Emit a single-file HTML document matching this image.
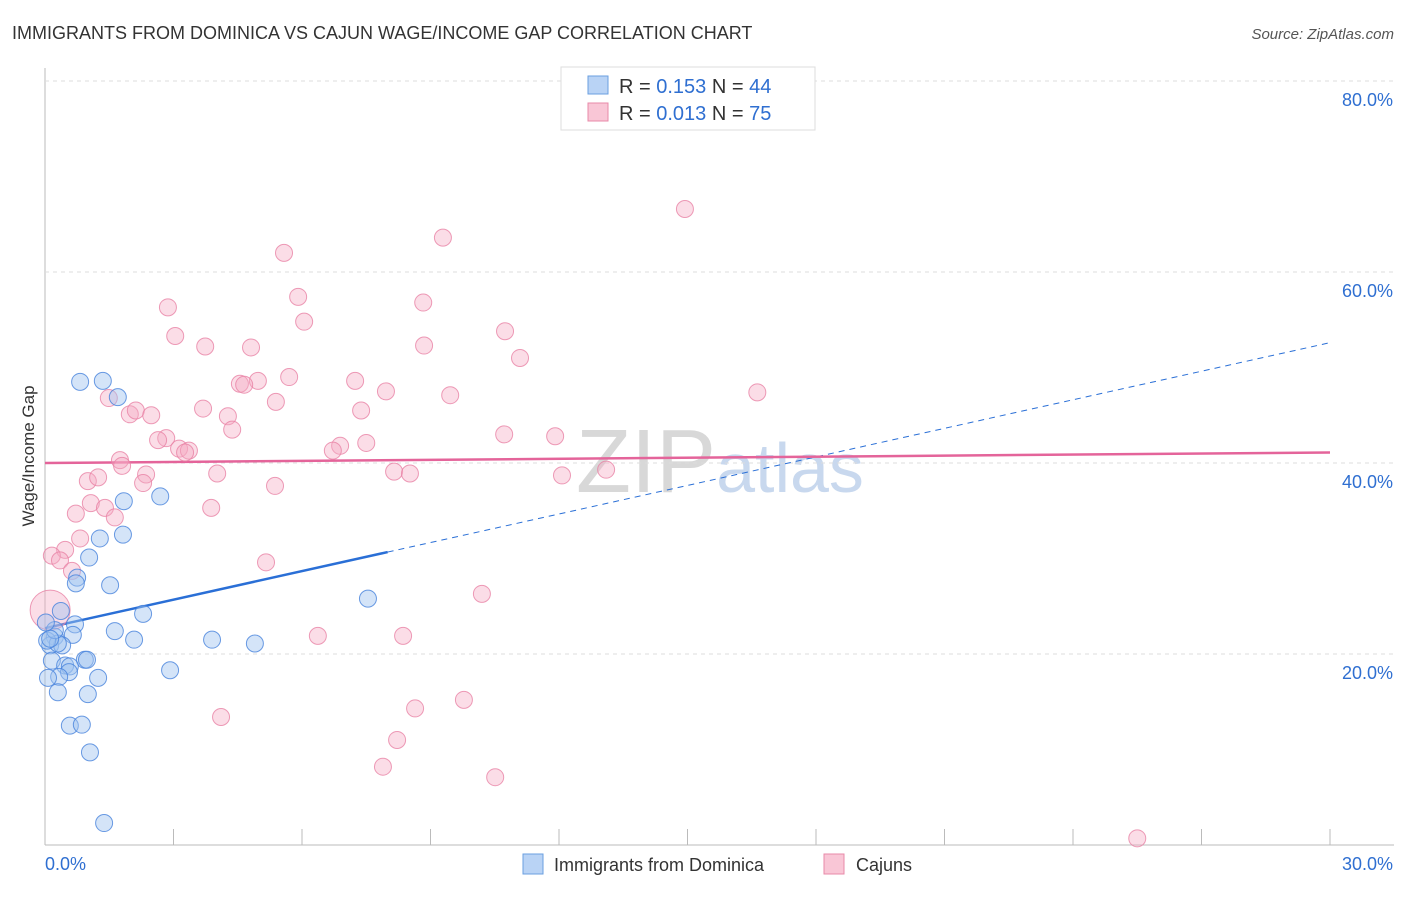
<!DOCTYPE html>
<html><head><meta charset="utf-8"><style>
body{margin:0;background:#fff;font-family:"Liberation Sans",sans-serif}
svg text{font-family:"Liberation Sans",sans-serif}
</style></head><body>
<svg id="chart" width="1406" height="892" xmlns="http://www.w3.org/2000/svg">
<text x="12" y="39" font-size="18" fill="#333">IMMIGRANTS FROM DOMINICA VS CAJUN WAGE/INCOME GAP CORRELATION CHART</text>
<text x="1394" y="39" font-size="15" fill="#555" font-style="italic" text-anchor="end">Source: ZipAtlas.com</text>
<text x="34" y="456" font-size="17" fill="#333" text-anchor="middle" transform="rotate(-90 34 456)">Wage/Income Gap</text>
<text x="720" y="492" font-size="90" fill="#d8d8d8" text-anchor="middle" font-family="Liberation Serif">ZIP<tspan fill="#c8d8ee" font-family="Liberation Sans" font-size="70">atlas</tspan></text>
<g id="grid"></g><g id="trend"></g><g id="pts"></g>
<g>
<rect x="561" y="67" width="254" height="63" fill="#fff" stroke="#ddd"/>
<rect x="588" y="76" width="20" height="18" fill="#b9d3f5" stroke="#6a9fe0"/>
<rect x="588" y="103" width="20" height="18" fill="#f9c6d6" stroke="#e88aa8"/>
<text x="619" y="93" font-size="20" fill="#333">R = <tspan fill="#2f6fd1">0.153</tspan>   N = <tspan fill="#2f6fd1">44</tspan></text>
<text x="619" y="120" font-size="20" fill="#333">R = <tspan fill="#2f6fd1">0.013</tspan>   N = <tspan fill="#2f6fd1">75</tspan></text>
</g>
<g>
<rect x="523" y="854" width="20" height="20" fill="#b9d3f5" stroke="#6a9fe0"/>
<text x="554" y="871" font-size="18" fill="#333">Immigrants from Dominica</text>
<rect x="824" y="854" width="20" height="20" fill="#f9c6d6" stroke="#e88aa8"/>
<text x="856" y="871" font-size="18" fill="#333">Cajuns</text>
</g>
</svg>
<script>
const yTicks=[20,40,60,80];
const xTickCount=10;
const xLabels=["0.0%","30.0%"];
const blueX=[0.82,1.35,1.70,1.84,2.69,1.82,1.28,1.03,0.75,0.72,1.52,0.37,0.70,0.65,2.29,1.63,2.08,3.90,4.90,7.54,0.23,0.12,0.40,0.30,0.05,0.16,0.47,0.93,0.98,0.58,0.56,0.33,1.24,2.92,0.07,0.30,1.00,0.58,0.86,1.05,1.38,0.23,0.12,0.02];
const blueY=[48.5,48.6,46.9,36.0,36.5,32.5,32.1,30.1,28.0,27.4,27.2,24.5,23.1,22.0,24.2,22.4,21.5,21.5,21.1,25.8,21.8,20.9,20.9,21.1,21.4,19.3,18.8,19.4,19.4,18.7,18.1,17.6,17.5,18.3,17.5,16.0,15.8,12.5,12.6,9.7,2.3,22.5,21.6,23.3];
const pinkX=[17.63,14.94,9.29,5.58,5.91,8.83,2.87,6.05,10.74,3.04,3.74,8.85,4.81,11.09,5.70,7.24,4.55,4.97,4.65,7.96,9.46,16.63,1.49,5.39,3.69,1.98,2.12,2.48,7.38,4.27,4.37,10.72,11.91,2.83,2.64,6.89,7.50,3.13,3.36,6.72,3.27,1.75,1.80,8.15,8.52,4.02,2.36,12.07,13.10,1.00,1.24,2.29,5.37,1.07,1.40,3.88,1.63,0.72,0.47,0.16,0.35,0.82,0.63,5.16,10.20,6.37,8.36,0.12,4.11,8.64,9.78,8.22,7.89,10.51,25.50];
const pinkY=[79.9,66.6,63.6,62.0,57.4,56.8,56.3,54.8,53.8,53.3,52.2,52.3,52.1,51.0,49.0,48.6,48.3,48.6,48.2,47.5,47.1,47.4,46.8,46.4,45.7,45.1,45.5,45.0,45.5,44.9,43.5,43.0,42.8,42.6,42.4,41.8,42.1,41.5,41.3,41.3,41.1,40.3,39.7,39.1,38.9,38.9,38.8,38.7,39.3,38.1,38.5,37.9,37.6,35.8,35.3,35.3,34.3,34.7,30.9,30.3,29.8,32.1,28.7,29.6,26.3,21.9,21.9,24.6,13.4,14.3,15.2,11.0,8.2,7.1,0.7];
const blueTrend=[22.7,52.6];
const blueSolidEnd=8.0;
const pinkTrend=[40.0,41.1];
const NS="http://www.w3.org/2000/svg";
function x(v){return 45+v/30*1285;}
function y(v){return 845-v*9.55;}
function mk(tag,attrs,parent){const e=document.createElementNS(NS,tag);for(const k in attrs)e.setAttribute(k,attrs[k]);parent.appendChild(e);return e;}
const grid=document.getElementById('grid');
const ax=mk('line',{x1:45,y1:68,x2:45,y2:845,stroke:'#bbb'},grid);


const bx=mk('line',{x1:45,y1:845,x2:1394,y2:845,stroke:'#bbb'},grid);


yTicks.forEach(t=>{
 const g=mk('line',{x1:45,x2:1394,y1:y(t),y2:y(t),stroke:'#ddd','stroke-dasharray':'4,4'},grid);
 
 
 const l=mk('text',{x:1393,y:y(t)+25,'font-size':18,fill:'#2f6fd1','text-anchor':'end'},grid);
 l.textContent=t.toFixed(1)+'%';
 
 
});
for(let i=0;i<=xTickCount;i++){
 const v=i*30/xTickCount;
 const tk=mk('line',{x1:x(v),x2:x(v),y1:829,y2:845,stroke:'#bbb'},grid);
 
 
}
[[0,'start',45],[30,'end',1393]].forEach((a,i)=>{
 const l=mk('text',{x:a[2],y:870,'font-size':18,fill:'#2f6fd1','text-anchor':a[1]},grid);
 l.textContent=xLabels[i];
 
 
});
const pts=document.getElementById('pts');
pinkX.forEach((v,i)=>{
 const c=mk('circle',{cx:x(v),cy:y(pinkY[i]),r:(i==67?20:8.5),fill:'rgba(246,170,195,0.4)',stroke:'rgba(232,130,165,0.8)','stroke-width':1},pts);
 
 
});
blueX.forEach((v,i)=>{
 const c=mk('circle',{cx:x(v),cy:y(blueY[i]),r:8.5,fill:'rgba(160,195,240,0.45)',stroke:'rgba(70,130,220,0.8)','stroke-width':1},pts);
 
 
});
const tr=document.getElementById('trend');
const bAt=v=>blueTrend[0]+(blueTrend[1]-blueTrend[0])*v/30;
const b1=mk('line',{x1:x(0),y1:y(bAt(0)),x2:x(blueSolidEnd),y2:y(bAt(blueSolidEnd)),stroke:'#2a6fd6','stroke-width':2.5},tr);


const b2=mk('line',{x1:x(blueSolidEnd),y1:y(bAt(blueSolidEnd)),x2:x(30),y2:y(bAt(30)),stroke:'#2a6fd6','stroke-width':1,'stroke-dasharray':'6,5'},tr);


const p1=mk('line',{x1:x(0),y1:y(pinkTrend[0]),x2:x(30),y2:y(pinkTrend[1]),stroke:'#e4649a','stroke-width':2.5},tr);


</script>
</body></html>
